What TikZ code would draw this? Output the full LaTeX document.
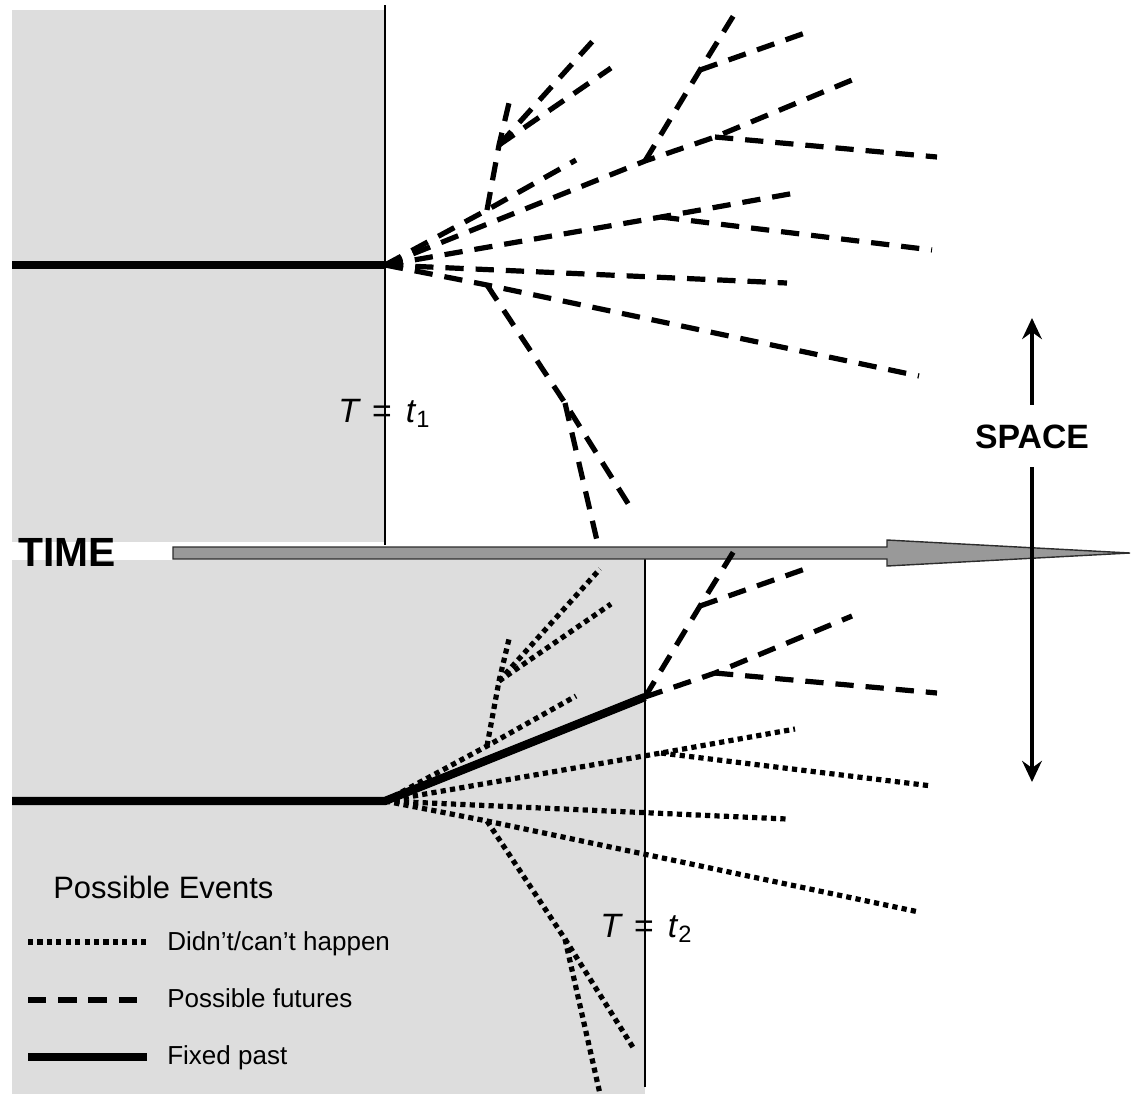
\documentclass[tikz,border=0pt]{standalone}
\usepackage{fontspec}
\setmainfont{Liberation Sans}
\usepackage{tikz}
\usetikzlibrary{arrows.meta,positioning}
\definecolor{panel}{RGB}{221,221,221}
\definecolor{shaft}{RGB}{153,153,153}
\definecolor{edge}{RGB}{45,45,45}

% branch points of one bundle of histories, #1 = prefix of the names
\newcommand{\eventpoints}[1]{%
  \coordinate (#1O) at (0,0);
  \coordinate (#1A) at (102,-55);
  \coordinate (#1a1) at (191,-105);
  \coordinate (#1B) at (114,-120);
  \coordinate (#1b1) at (124,-162);
  \coordinate (#1b2) at (215,-232);
  \coordinate (#1b3) at (226,-197);
  \coordinate (#1C) at (260,-104);
  \coordinate (#1D) at (330,-128);
  \coordinate (#1d1) at (467,-185);
  \coordinate (#1d2) at (552,-108);
  \coordinate (#1E) at (315,-195);
  \coordinate (#1e1) at (352,-255);
  \coordinate (#1e2) at (420,-232);
  \coordinate (#1F) at (276,-48);
  \coordinate (#1f1) at (410,-72);
  \coordinate (#1f2) at (547,-15);
  \coordinate (#1g) at (402,18);
  \coordinate (#1G) at (102,20);
  \coordinate (#1g1) at (534,111);
  \coordinate (#1H) at (180,138);
  \coordinate (#1h1) at (249,248);
  \coordinate (#1h2) at (213,280);
}

\begin{document}
\begin{tikzpicture}[x=0.025cm, y=-0.025cm,
    possible/.style={line width=3.7pt, dash pattern=on 13pt off 8.5pt},
    cannot/.style={line width=3.7pt, dash pattern=on 3.7pt off 3pt},
    fixed/.style={line width=5.9pt},
    tline/.style={line width=1.3pt},
    tlabel/.style={anchor=base west, inner sep=0pt, font=\fontsize{24}{28}\selectfont},
    legend/.style={anchor=base west, inner sep=0pt, font=\fontsize{18.5}{22}\selectfont},
    spacearrow/.style={line width=2.2pt, -{Stealth[length=15pt, width=14pt, inset=5pt]}}]
    \useasboundingbox (0,0) rectangle (1132,1094);

    % the past, shaded
    \fill[panel] (12,10) rectangle (385,542);
    \fill[panel] (12,560) rectangle (645,1094);
    \draw[tline] (385,5) -- (385,545);
    \draw[tline] (645,551) -- (645,1087);

    % time arrow
    \filldraw[fill=shaft, draw=edge, line width=1pt] (173,547) -- (887,547) -- (887,540) -- (1130,553) -- (887,566) -- (887,559) -- (173,559) -- cycle;

    \begin{scope}[shift={(385,265)}] \eventpoints{u} \end{scope}
    \begin{scope}[shift={(385,801)}] \eventpoints{l} \end{scope}
    \coordinate (lh2) at (600,1094);

    % T = t1 : everything still open
    \draw[possible] (uO) -- (uA) -- (ua1);
    \draw[possible] (uA) -- (uB) -- (ub1);
    \draw[possible] (uB) -- (ub2);
    \draw[possible] (uB) -- (ub3);
    \draw[possible] (uO) -- (uC) -- (uD) -- (ud1);
    \draw[possible] (uC) -- (uE) -- (ue1);
    \draw[possible] (uE) -- (ue2);
    \draw[possible] (uD) -- (ud2);
    \draw[possible] (uO) -- (uF) -- (uf1);
    \draw[possible] (uF) -- (uf2);
    \draw[possible] (uO) -- (ug);
    \draw[possible] (uO) -- (uG) -- (ug1);
    \draw[possible] (uG) -- (uH) -- (uh1);
    \draw[possible] (uH) -- (uh2);
    \draw[fixed] (12,265) -- (uO);

    % T = t2 : one path fixed
    \draw[cannot] (lO) -- (lA) -- (la1);
    \draw[cannot] (lA) -- (lB) -- (lb1);
    \draw[cannot] (lB) -- (lb2);
    \draw[cannot] (lB) -- (lb3);
    \draw[possible] (lC) -- (lD) -- (ld1);
    \draw[possible] (lC) -- (lE) -- (le1);
    \draw[possible] (lE) -- (le2);
    \draw[possible] (lD) -- (ld2);
    \draw[cannot] (lO) -- (lF) -- (lf1);
    \draw[cannot] (lF) -- (lf2);
    \draw[cannot] (lO) -- (lg);
    \draw[cannot] (lO) -- (lG) -- (lg1);
    \draw[cannot] (lG) -- (lH) -- (lh1);
    \draw[cannot] (lH) -- (lh2);
    \draw[fixed] (12,801) -- (lO) -- (lC);

    \node[tlabel] (tone) at (338,422) {\textit{T}\hspace{8pt}=\hspace{10pt}\textit{t}\textsubscript{1}};
    \node[tlabel] (ttwo) at (600,937) {\textit{T}\hspace{8pt}=\hspace{10pt}\textit{t}\textsubscript{2}};

    \node[anchor=west, inner sep=0pt, font=\fontsize{29}{30}\selectfont\bfseries] (time) at (18,552) {TIME};

    \node[font=\fontsize{24}{26}\selectfont\bfseries, text height=17.2pt, text depth=0pt, inner xsep=0pt, inner ysep=13.5pt] (space) at (1032,436) {SPACE};
    \coordinate (up) at (1032,318);
    \coordinate (down) at (1032,782);
    \draw[spacearrow] (space) -- (up);
    \draw[spacearrow] (space) -- (down);

    % legend
    \node[anchor=base west, inner sep=0pt, font=\fontsize{22}{26}\selectfont] (events) at (53,898) {Possible Events};
    \node[legend] (nothappen) at (167,950) {Didn't/can't happen};
    \node[legend] (futures) at (167,1007) {Possible futures};
    \node[legend] (past) at (167,1064) {Fixed past};
    \draw[cannot] (28,942) -- (147,942);
    \draw[possible] (28,1000) -- (147,1000);
    \draw[fixed] (28,1057) -- (147,1057);
\end{tikzpicture}
\end{document}
